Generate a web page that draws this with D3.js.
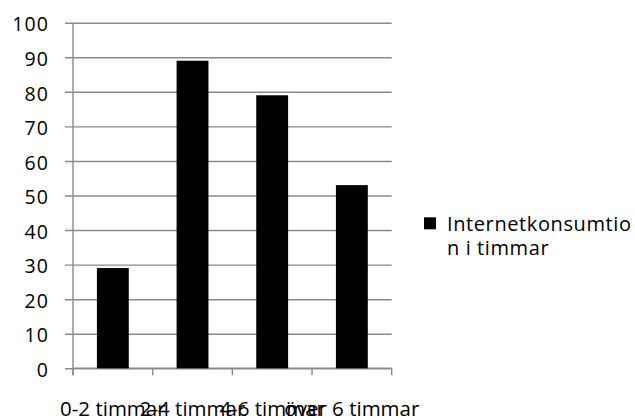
<!DOCTYPE html>
<html>
<head>
<meta charset="utf-8">
<script src="https://cdn.jsdelivr.net/npm/d3@7"></script>
<style>
  html, body { margin: 0; padding: 0; background: #fff; }
  svg { display: block; }
  text { font-family: "Open Sans", Lato, sans-serif; fill: #000; }
</style>
</head>
<body>
<svg id="chart" width="635" height="418"></svg>
<script>
// Internet use per day, grouped by hours
const categories = ["0-2 timmar", "2-4 timmar", "4-6 timmar", "över 6 timmar"];
const values = [29, 89, 79, 53];
const yTicks = [0, 10, 20, 30, 40, 50, 60, 70, 80, 90, 100];
const seriesName = ["Internetkonsumtio", "n i timmar"];

const svg = d3.select("#chart");
const plot = { left: 73, right: 391.7, top: 22.7, bottom: 368.3 };

const x = d3.scaleBand()
  .domain(categories)
  .range([plot.left, plot.right])
  .paddingInner(0.6)
  .paddingOuter(0.3);

const y = d3.scaleLinear()
  .domain([0, 100])
  .range([plot.bottom, plot.top]);

const gridColor = "#8a8a8a";

// horizontal gridlines with outward tick marks on the value axis
const yAxis = d3.axisLeft(y)
  .tickValues(yTicks)
  .tickSize(-(plot.right - plot.left))
  .tickSizeOuter(0)
  .tickPadding(24)
  .tickFormat(d3.format("d"));

const gy = svg.append("g")
  .attr("transform", `translate(${plot.left},0)`)
  .call(yAxis);
gy.select(".domain").remove();
gy.selectAll(".tick line")
  .attr("x1", -8)
  .attr("stroke", gridColor)
  .attr("stroke-width", 1.4);
gy.selectAll(".tick text")
  .attr("font-size", 19.5)
  .attr("letter-spacing", 1.1)
  .attr("dy", "0.42em");

// vertical axis line
svg.append("line")
  .attr("x1", plot.left).attr("x2", plot.left)
  .attr("y1", plot.top).attr("y2", plot.bottom + 7)
  .attr("stroke", gridColor).attr("stroke-width", 1.4);

// category axis: baseline, boundary ticks and labels
const step = x.step();
const boundaries = categories.map(c => x(c) - step * x.paddingOuter())
  .concat([plot.right]);

svg.append("line")
  .attr("x1", plot.left).attr("x2", plot.right)
  .attr("y1", plot.bottom).attr("y2", plot.bottom)
  .attr("stroke", gridColor).attr("stroke-width", 1.4);

svg.append("g").selectAll("line")
  .data(boundaries)
  .join("line")
  .attr("x1", d => d).attr("x2", d => d)
  .attr("y1", plot.bottom).attr("y2", plot.bottom + 7)
  .attr("stroke", gridColor).attr("stroke-width", 1.4);

// bars
svg.append("g").selectAll("rect")
  .data(values)
  .join("rect")
  .attr("x", (d, i) => x(categories[i]))
  .attr("width", x.bandwidth())
  .attr("y", d => y(d))
  .attr("height", d => y(0) - y(d))
  .attr("fill", "#000");

// category labels, centred under each bar (long labels run into each other)
svg.append("g").selectAll("text")
  .data(categories)
  .join("text")
  .attr("x", c => x(c) + x.bandwidth() / 2)
  .attr("y", 416)
  .attr("text-anchor", "middle")
  .attr("font-size", 20.5)
  .text(c => c);

// legend
const legend = svg.append("g");
legend.append("rect")
  .attr("x", 424).attr("y", 217.3)
  .attr("width", 12).attr("height", 12)
  .attr("fill", "#000");
legend.selectAll("text")
  .data(seriesName)
  .join("text")
  .attr("x", 447)
  .attr("y", (d, i) => 231 + i * 24)
  .attr("font-size", 20)
  .attr("letter-spacing", 0.6)
  .text(d => d);
</script>
</body>
</html>
